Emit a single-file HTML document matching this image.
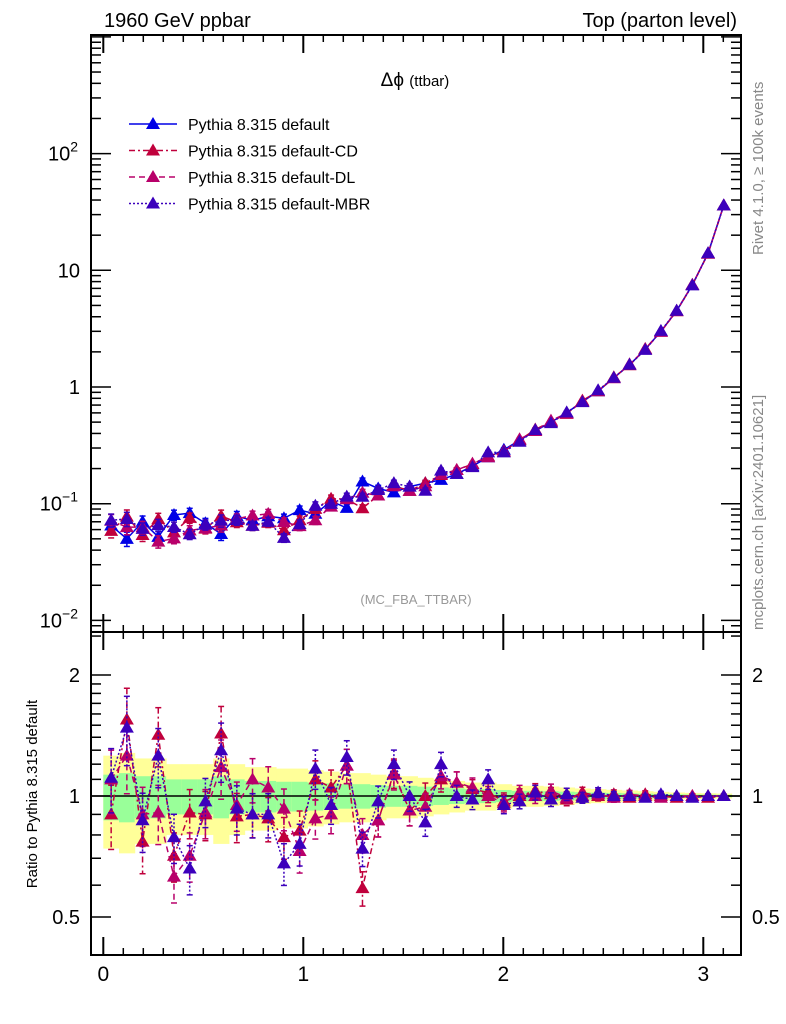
<!DOCTYPE html>
<html><head><meta charset="utf-8"><style>
html,body{margin:0;padding:0;background:#fff;}
svg{display:block;font-family:"Liberation Sans",sans-serif;}
</style></head><body>
<svg id="chart" width="786" height="1024" viewBox="0 0 786 1024" xmlns="http://www.w3.org/2000/svg">
<text x="104" y="27" font-size="20">1960 GeV ppbar</text>
<text x="737" y="27" font-size="20" text-anchor="end">Top (parton level)</text>
<text x="415" y="86" font-size="19" text-anchor="middle">Δϕ <tspan font-size="15">(ttbar)</tspan></text>
<text x="416" y="604" font-size="13" fill="#999" text-anchor="middle">(MC_FBA_TTBAR)</text>
<text transform="translate(763,255) rotate(-90)" font-size="15" fill="#888">Rivet 4.1.0, ≥ 100k events</text>
<text transform="translate(763,630) rotate(-90)" font-size="15" fill="#888">mcplots.cern.ch [arXiv:2401.10621]</text>
<text transform="translate(37,794) rotate(-90)" font-size="15" text-anchor="middle">Ratio to Pythia 8.315 default</text>
<g id="bands"></g>
<g id="axes"></g>
<g id="series"></g>
<g id="legend"></g>
</svg>
<script>
const nbins = 40;
const xMax = Math.PI;
const defaultVals = [0.065,0.050,0.070,0.052,0.080,0.083,0.068,0.055,0.078,0.072,0.078,0.075,0.088,0.082,0.105,0.092,0.155,0.135,0.125,0.14,0.15,0.16,0.18,0.21,0.25,0.29,0.35,0.42,0.5,0.6,0.75,0.92,1.2,1.55,2.1,3.0,4.5,7.5,14,36];
const relErr = [0.13,0.14,0.12,0.12,0.1,0.1,0.1,0.12,0.1,0.09,0.09,0.085,0.085,0.08,0.075,0.07,0.07,0.065,0.06,0.06,0.055,0.05,0.045,0.04,0.04,0.035,0.03,0.03,0.028,0.025,0.022,0.02,0.018,0.016,0.014,0.012,0.01,0.009,0.008,0.007];
const ratioCD = [0.9,1.55,0.77,1.42,0.71,0.91,0.9,1.43,0.89,0.9,0.88,0.79,0.82,1.1,1.05,1.19,0.59,0.87,1.14,0.92,1.0,1.1,1.08,1.04,1.02,0.97,1.0,1.03,1.01,0.98,1.02,1.0,1.01,0.99,1.01,1.0,0.99,1.0,0.99,1.0];
const ratioDL = [1.1,1.26,0.9,0.91,0.63,0.71,0.91,1.18,0.95,1.1,1.05,0.93,0.73,0.88,0.9,1.19,0.8,0.87,1.13,0.92,0.94,1.12,1.08,1.05,1.0,0.96,1.02,1.0,1.03,0.99,1.0,1.01,0.99,1.01,1.0,0.99,1.0,1.0,1.0,1.0];
const ratioMBR = [1.11,1.48,0.87,1.26,0.79,0.66,0.97,1.3,0.93,0.9,0.9,0.68,0.76,1.17,0.95,1.25,0.74,0.97,1.2,1.0,0.86,1.2,1.0,0.98,1.1,0.95,0.97,1.02,0.98,1.01,0.99,1.02,1.0,1.0,0.99,1.01,1.0,0.99,1.0,1.0];
const xTicks = [0,1,2,3];
const mainTicks = [{v:0.01,l:"10",e:"−2"},{v:0.1,l:"10",e:"−1"},{v:1,l:"1"},{v:10,l:"10"},{v:100,l:"10",e:"2"}];
const ratioTicks = [0.5,1,2];

const NS="http://www.w3.org/2000/svg";
const L=91,R=741,T=35,MB=632,RB=955;
function X(v){return 103.3+200*v;}
function Ym(v){return 387-116.7*Math.log10(v);}
function Yr(v){return 796-121*Math.log2(v);}
function mk(tag,at,parent){const e=document.createElementNS(NS,tag);for(const k in at)e.setAttribute(k,at[k]);parent.appendChild(e);return e;}
const axes=document.getElementById('axes'),bands=document.getElementById('bands'),series=document.getElementById('series'),legend=document.getElementById('legend');
const bw=xMax/nbins;

for(let i=0;i<nbins;i++){
  const x0=X(i*bw),x1=X((i+1)*bw),e=relErr[i];
  const yb=mk('rect',{x:x0,width:x1-x0+0.5,y:Yr(1+2*e),height:Yr(Math.max(1-2*e,0.05))-Yr(1+2*e),fill:'#ffff99'},bands);
  
  
  const gb=mk('rect',{x:x0,width:x1-x0+0.5,y:Yr(1+e),height:Yr(1-e)-Yr(1+e),fill:'#99ff99'},bands);
  
  
}
mk('line',{x1:L,x2:R,y1:Yr(1),y2:Yr(1),stroke:'#000','stroke-width':1.5},bands);

const f1=mk('rect',{x:L,y:T,width:R-L,height:MB-T,fill:'none',stroke:'#000','stroke-width':2},axes);


const f2=mk('rect',{x:L,y:MB,width:R-L,height:RB-MB,fill:'none',stroke:'#000','stroke-width':2},axes);



for(let k=0;k<=31;k++){
  const v=k/10,x=X(v),maj=(k%10===0),len=maj?18:7,w=maj?2:1.5;
  [[T,1],[MB,-1],[MB,1],[RB,-1]].forEach(([y,d])=>mk('line',{x1:x,x2:x,y1:y,y2:y+d*len,stroke:'#000','stroke-width':w},axes));
}
xTicks.forEach(v=>{const t=mk('text',{x:X(v),y:981,'font-size':21,'text-anchor':'middle'},axes);t.textContent=v;

});

for(let d=-3;d<=3;d++){for(let m=1;m<10;m++){const v=m*Math.pow(10,d),y=Ym(v);if(y<T||y>MB)continue;const len=m===1?20:10;
 mk('line',{x1:L,x2:L+len,y1:y,y2:y,stroke:'#000','stroke-width':1.5},axes);mk('line',{x1:R,x2:R-len,y1:y,y2:y,stroke:'#000','stroke-width':1.5},axes);}}
mainTicks.forEach(t=>{const e=mk('text',{x:t.e?78:80,y:Ym(t.v)+7,'font-size':20,'text-anchor':'end'},axes);
 e.textContent=t.l; if(t.e){const s=mk('tspan',{dy:-9,'font-size':14},e);s.textContent=t.e;}
 
 });

[0.4,0.5,0.6,0.7,0.8,0.9,1,1.1,1.2,1.3,1.4,1.5,1.6,1.7,1.8,1.9,2,2.5].forEach(v=>{const y=Yr(v);if(y<MB||y>RB)return;const len=ratioTicks.includes(v)?20:10;
 mk('line',{x1:L,x2:L+len,y1:y,y2:y,stroke:'#000','stroke-width':1.5},axes);mk('line',{x1:R,x2:R-len,y1:y,y2:y,stroke:'#000','stroke-width':1.5},axes);});
ratioTicks.forEach(v=>{[[80,'end'],[752,'start']].forEach(([x,a])=>{const e=mk('text',{x:x,y:Yr(v)+7,'font-size':20,'text-anchor':a},axes);e.textContent=v;
 
 });});

const defs=[
 {name:'default',col:'#0000e6',dash:'',ratio:null},
 {name:'default-CD',col:'#c0003c',dash:'6,3,2,3',ratio:ratioCD},
 {name:'default-DL',col:'#b8006a',dash:'6,4',ratio:ratioDL},
 {name:'default-MBR',col:'#3c00bc',dash:'2,2',ratio:ratioMBR}];
function tri(x,y,c,p,nm){const t=mk('polygon',{points:`${x},${y-7} ${x-7},${y+5} ${x+7},${y+5}`,fill:c},p);
 
 }
function errbar(x,y1,y2,c,p,dash){mk('line',{x1:x,x2:x,y1:y1,y2:y2,stroke:c,'stroke-width':1.5,'stroke-dasharray':dash},p);
 mk('line',{x1:x-3,x2:x+3,y1:y1,y2:y1,stroke:c,'stroke-width':1.5},p);mk('line',{x1:x-3,x2:x+3,y1:y2,y2:y2,stroke:c,'stroke-width':1.5},p);}
defs.forEach(s=>{
 const g=mk('g',{},series);
 
 
 const vals=defaultVals.map((v,i)=>s.ratio?v*s.ratio[i]:v);
 const pm=vals.map((v,i)=>[X((i+0.5)*bw),Ym(v)]);
 mk('polyline',{points:pm.map(p=>p.join(',')).join(' '),fill:'none',stroke:s.col,'stroke-width':1.5,'stroke-dasharray':s.dash},g);
 vals.forEach((v,i)=>{errbar(pm[i][0],Ym(v*(1+relErr[i])),Ym(v*(1-relErr[i])),s.col,g,s.dash);tri(pm[i][0],pm[i][1],s.col,g,'marker-'+s.name);});
 if(s.ratio){
  const rv=s.ratio;
  const pr=rv.map((v,i)=>[X((i+0.5)*bw),Yr(v)]);
  mk('polyline',{points:pr.map(p=>p.join(',')).join(' '),fill:'none',stroke:s.col,'stroke-width':1.5,'stroke-dasharray':s.dash},g);
  rv.forEach((v,i)=>{errbar(pr[i][0],Yr(v*(1+1.4*relErr[i])),Yr(v*(1-1.4*relErr[i])),s.col,g,s.dash);tri(pr[i][0],pr[i][1],s.col,g,'ratio-marker-'+s.name);});
 }
});

defs.forEach((s,i)=>{const y=124+i*26.5;const g=mk('g',{},legend);
 
 
 mk('line',{x1:129,x2:177,y1:y,y2:y,stroke:s.col,'stroke-width':1.5,'stroke-dasharray':s.dash},g);
 tri(153,y,s.col,g,'legend-marker');
 const t=mk('text',{x:188,y:y+6,'font-size':16},g);t.textContent='Pythia 8.315 '+s.name;});
</script>
</body></html>
